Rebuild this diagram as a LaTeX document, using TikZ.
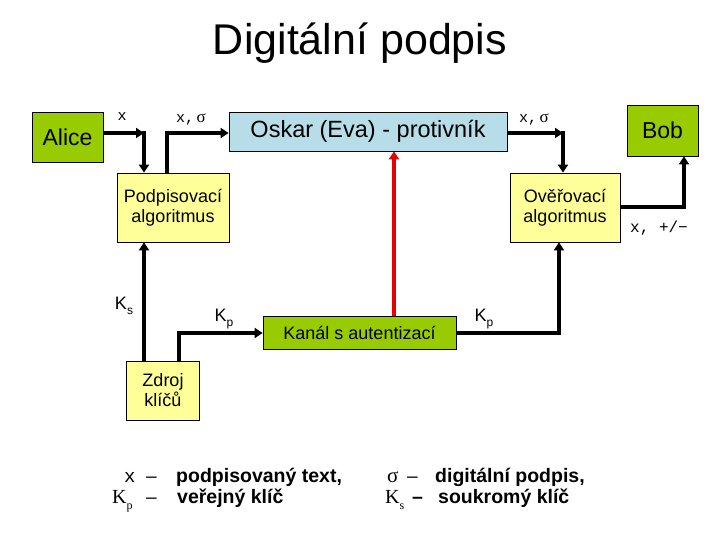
\documentclass[tikz,border=0pt]{standalone}
\usepackage{fontspec}
\setmainfont{Liberation Sans}
\newfontfamily\monof{Liberation Mono}
\newfontfamily\serf{Liberation Serif}
\usetikzlibrary{arrows.meta}
\newcommand{\fsz}[2]{\fontsize{#1}{#2}\selectfont}
\newcommand{\sbs}[1]{\raisebox{-0.3em}{\fsz{12}{12}#1}}
\definecolor{grn}{RGB}{153,204,0}
\definecolor{blu}{RGB}{183,222,232}
\definecolor{yel}{RGB}{255,255,153}
\definecolor{rd}{RGB}{230,0,0}
\begin{document}
\begin{tikzpicture}[x=1pt,y=-1pt,
  box/.style={draw=black, line width=0.8pt, inner sep=0pt, align=center},
  arr/.style={line width=3.5pt, line join=miter, -{Triangle[length=8pt,width=10pt]}},
  lbl/.style={inner sep=0pt, font=\monof\fsz{15}{15}},
  kl/.style={inner sep=0pt, font=\fsz{18}{18}},
  leg/.style={inner sep=0pt, anchor=base west, font=\bfseries\fsz{19.5}{19.5}}]
\useasboundingbox (0,0) rectangle (720,540);
\fill[white] (0,0) rectangle (720,540);

\node[inner sep=0pt, anchor=base, font=\fsz{43}{43}] (title) at (360,55) {Digitální podpis};

\node[box, fill=grn, minimum width=71pt, minimum height=50pt, font=\fsz{23}{23}] (alice) at (67.5,137.5) {Alice};
\node[box, fill=blu, minimum width=278pt, minimum height=39pt, font=\fsz{23.5}{23.5}] (oskar) at (368,131.5) {Oskar (Eva) - protivník};
\node[box, fill=grn, minimum width=71pt, minimum height=51pt, font=\fsz{23}{23}] (bob) at (662.5,130.5) {Bob};
\node[box, fill=yel, minimum width=112pt, minimum height=69pt, font=\fsz{18}{20}] (podp) at (173,207.5) {Podpisovací\\algoritmus};
\node[box, fill=yel, minimum width=110pt, minimum height=69pt, font=\fsz{18}{20}] (over) at (565,207.5) {Ověřovací\\algoritmus};
\node[box, fill=yel, minimum width=73pt, minimum height=59pt, font=\fsz{18}{20}] (zdroj) at (163,390.5) {Zdroj\\klíčů};
\node[box, fill=grn, minimum width=193pt, minimum height=33pt, font=\fsz{18}{18}] (kanal) at (359.5,332.5) {Kanál s autentizací};

\coordinate (c1) at (144,133);
\coordinate (c2) at (167,133);
\coordinate (c3) at (563,133);
\coordinate (c4) at (684,207);
\coordinate (c6) at (179,333);
\coordinate (c7) at (559,333);
\coordinate (c8) at (394,333);

\draw[arr] (alice.east |- c1) -- (c1);
\draw[arr, shorten <=-1.75pt] (c1) -- (podp.north -| c1);
\draw[arr] (podp.north -| c2) -- (c2) -- (oskar.west |- c2);
\draw[arr] (oskar.east |- c3) -- (c3);
\draw[arr, shorten <=-1.75pt] (c3) -- (over.north -| c3);
\draw[arr] (over.east |- c4) -- (c4) -- (bob.south -| c4);
\draw[arr] (zdroj.north -| c1) -- (podp.south -| c1);
\draw[arr] (zdroj.north -| c6) -- (c6) -- (kanal.west |- c6);
\draw[arr] (kanal.east |- c7) -- (c7) -- (over.south -| c7);
\draw[arr, draw=rd, fill=rd] (kanal.north -| c8) -- (oskar.south -| c8);

\node[lbl] (lx) at (122,117) {x};
\node[lbl] (lxs1) at (191,119) {x,\,{\serf\fsz{17}{17}σ}};
\node[lbl] (lxs2) at (534,119) {x,\,{\serf\fsz{17}{17}σ}};
\node[lbl, font=\monof\fsz{16}{16}] (lxpm) at (659,228) {x, +/−};
\node[kl] (lks) at (124,306) {K\sbs{s}};
\node[kl] (lkp1) at (224,319) {K\sbs{p}};
\node[kl] (lkp2) at (484,319) {K\sbs{p}};

% legend
\node[leg, font=\monof\fsz{19}{19}] (g1) at (124,482) {x};
\node[leg, font=\fsz{19}{19}] (g2) at (146,482) {–};
\node[leg] (g3) at (176,482) {podpisovaný text,};
\node[leg, font=\serf\fsz{20}{20}] (g4) at (112,503) {K\sbs{p}};
\node[leg, font=\fsz{19}{19}] (g5) at (146,503) {–};
\node[leg] (g6) at (177,503) {veřejný klíč};
\node[leg, font=\serf\fsz{21}{21}] (g7) at (387,482) {σ};
\node[leg, font=\fsz{19}{19}] (g8) at (407,482) {–};
\node[leg] (g9) at (435,482) {digitální podpis,};
\node[leg, font=\serf\fsz{20}{20}] (g10) at (385,503) {K\sbs{s}};
\node[leg] (g11) at (412,503) {–};
\node[leg] (g12) at (438,503) {soukromý klíč};
\end{tikzpicture}
\end{document}
